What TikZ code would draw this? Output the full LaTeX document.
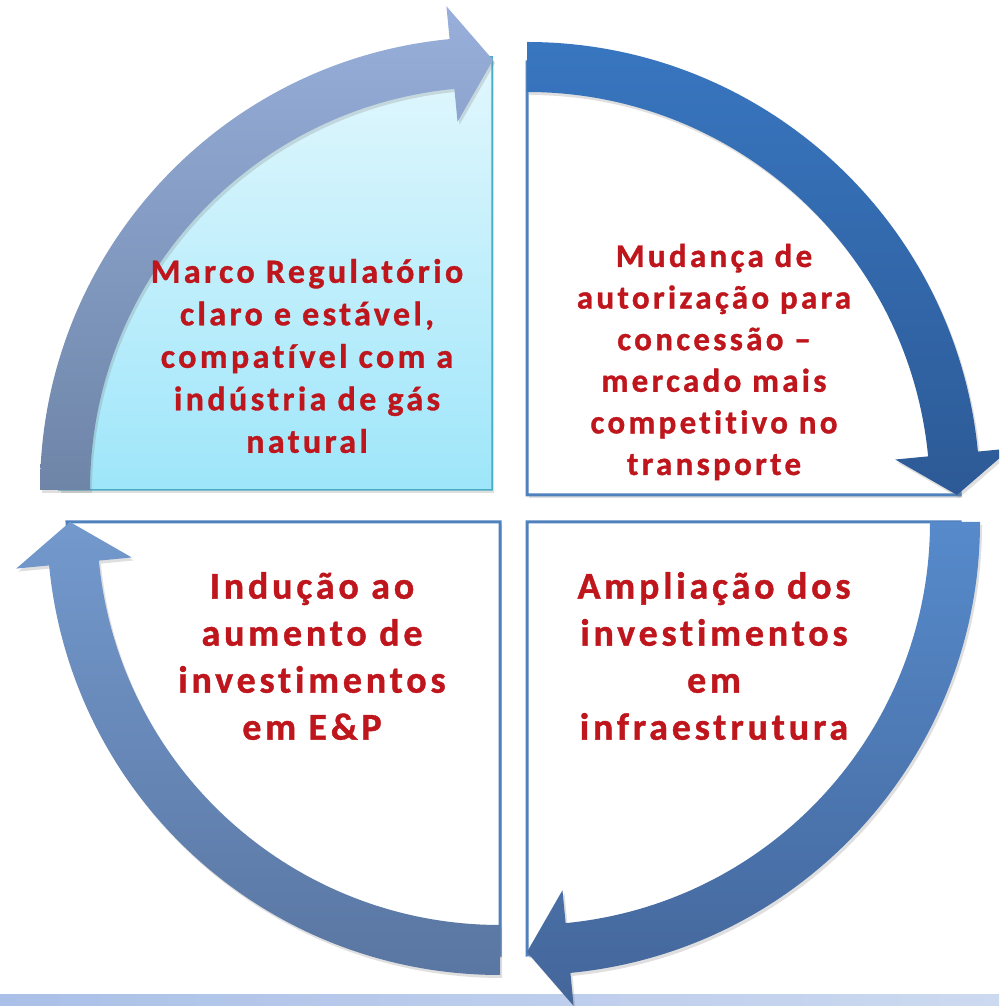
\documentclass[tikz,border=0pt]{standalone}
\usepackage{fontspec}
\newfontfamily\calfont[LetterSpace=10,Ligatures=CommonOff,FakeBold=1]{Carlito}
\usetikzlibrary{shadows}
\definecolor{txtred}{HTML}{BE161C}
\definecolor{stripL}{HTML}{ABC0E8}
\definecolor{stripR}{HTML}{CCD9F0}
\definecolor{boxblue}{HTML}{4F81BD}
\definecolor{boxteal}{HTML}{4BACC6}
\definecolor{tlTop}{HTML}{E2F7FD}
\definecolor{tlBot}{HTML}{9EE6FA}
\definecolor{aTLt}{HTML}{97AFDA}
\definecolor{aTLb}{HTML}{6E85A8}
\definecolor{aTRt}{HTML}{3876C0}
\definecolor{aTRb}{HTML}{2D5A96}
\definecolor{aBRt}{HTML}{568ACB}
\definecolor{aBRb}{HTML}{44669A}
\definecolor{aBLt}{HTML}{7399CD}
\definecolor{aBLb}{HTML}{5A76A2}
% arrow: #1 tail angle, #2 head-base angle, #3 tip angle
\newcommand{\cycarrow}[3]{%
  (#1:453pt) arc[start angle=#1, end angle=#2, radius=453pt]
  -- (#2:486pt) -- (#3:430pt) -- (#2:370pt) -- (#2:403pt)
  arc[start angle=#2, end angle=#1, radius=403pt] -- cycle}
\tikzset{
  pie/.style={line width=3pt, draw=boxblue, fill=white,
    drop shadow={opacity=0.25, shadow xshift=2pt, shadow yshift=-3pt}},
  arrowshape/.style={drop shadow={opacity=0.25, shadow xshift=2pt, shadow yshift=-3pt}},
  label/.style={align=center, text=txtred, inner sep=0pt,
    font=\calfont\bfseries},
}
\begin{document}
\begin{tikzpicture}[x=1pt,y=1pt]
\useasboundingbox (0,0) rectangle (999,1006);
\clip (0,0) rectangle (999,1006);
\fill[white] (0,0) rectangle (999,1006);
% bottom strip
\shade[left color=stripL, right color=stripR] (0,0) rectangle (999,11);
% quarter panels
\path[pie, draw=boxteal, line width=1.5pt, top color=tlTop, bottom color=tlBot]
  (492,516) -- (59,516) arc[start angle=180, end angle=90, radius=433pt] -- cycle;
\path[pie] (527,511) -- (527,944) arc[start angle=90, end angle=0, radius=433pt] -- cycle;
\path[pie] (527,484) -- (960,484) arc[start angle=0, end angle=-90, radius=433pt] -- cycle;
\path[pie] (500,484) -- (500,51) arc[start angle=270, end angle=180, radius=433pt] -- cycle;
% cycle arrows
\begin{scope}[shift={(493,516)}]
  \path[arrowshape, top color=aTLt, bottom color=aTLb] \cycarrow{180}{95.5}{90};
\end{scope}
\begin{scope}[shift={(527,511)}]
  \path[arrowshape, top color=aTRt, bottom color=aTRb] \cycarrow{90}{5.5}{0};
\end{scope}
\begin{scope}[shift={(527,484)}]
  \path[arrowshape, top color=aBRt, bottom color=aBRb] \cycarrow{0}{-84.5}{-90};
\end{scope}
\begin{scope}[shift={(500,484)}]
  \path[arrowshape, top color=aBLt, bottom color=aBLb] \cycarrow{-90}{-174.5}{-180};
\end{scope}
% labels
\node[label, font=\calfont\bfseries\fontsize{34}{42.5}\selectfont] (marco) at (307,650)
  {Marco Regulatório\\claro e estável,\\compatível com a\\indústria de gás\\natural};
\node[label, font=\calfont\bfseries\fontsize{33}{41.6}\selectfont] (mudanca) at (714,644)
  {Mudança de\\autorização para\\concessão –\\mercado mais\\competitivo no\\transporte};
\node[label, font=\calfont\bfseries\fontsize{38}{47}\selectfont] (ampliacao) at (714,350)
  {Ampliação dos\\investimentos\\em\\infraestrutura};
\node[label, font=\calfont\bfseries\fontsize{38}{47}\selectfont] (inducao) at (312,350)
  {Indução ao\\aumento de\\investimentos\\em E\&P};
\end{tikzpicture}
\end{document}
